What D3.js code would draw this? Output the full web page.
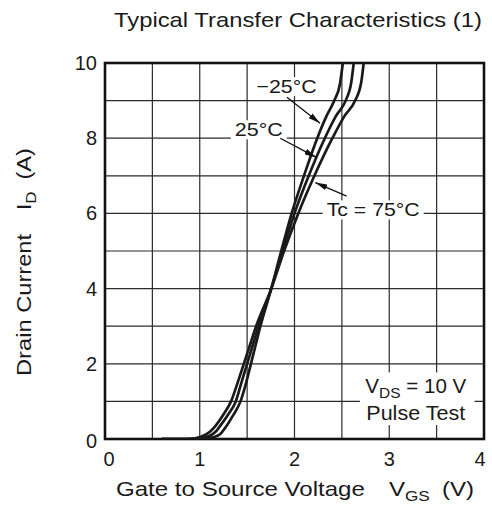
<!DOCTYPE html>
<html>
<head>
<meta charset="utf-8">
<script src="https://cdn.jsdelivr.net/npm/d3@7"></script>
<style>
  body { margin: 0; background: #fff; }
  svg text { font-family: "Liberation Sans", Arial, sans-serif; fill: #1a1a1a; }
</style>
</head>
<body>
<svg width="492" height="524"></svg>
<script>
const xTicks = [0, 1, 2, 3, 4];
const yTicks = [0, 2, 4, 6, 8, 10];

// Tc = -25 C
const vCold = [0.6, 0.95, 1.05, 1.15, 1.22, 1.27, 1.35, 1.43, 1.49, 1.54, 1.59, 1.64, 1.755, 1.86, 1.97, 2.10, 2.24, 2.34, 2.42, 2.48, 2.51];
const iCold = [0, 0, 0.01, 0.05, 0.14, 0.3, 0.62, 1.0, 1.5, 2.0, 2.5, 3.0, 4.0, 5.0, 6.0, 7.0, 8.0, 8.6, 9.0, 9.45, 10];
// Tc = 25 C
const vRoom = [0.6, 0.9, 1.0, 1.1, 1.17, 1.21, 1.3, 1.38, 1.44, 1.50, 1.56, 1.62, 1.755, 1.875, 2.0, 2.15, 2.32, 2.44, 2.54, 2.60, 2.625];
const iRoom = [0, 0, 0.02, 0.08, 0.2, 0.33, 0.65, 1.0, 1.5, 2.0, 2.5, 3.0, 4.0, 5.0, 6.0, 7.0, 8.0, 8.6, 9.0, 9.5, 10];
// Tc = 75 C
const vHot = [0.6, 0.85, 0.95, 1.05, 1.11, 1.16, 1.25, 1.33, 1.40, 1.465, 1.53, 1.595, 1.755, 1.89, 2.04, 2.21, 2.40, 2.53, 2.64, 2.705, 2.73];
const iHot = [0, 0, 0.02, 0.1, 0.2, 0.33, 0.65, 1.0, 1.5, 2.0, 2.5, 3.0, 4.0, 5.0, 6.0, 7.0, 8.0, 8.6, 9.0, 9.5, 10];

const series = [
  { name: "-25", v: vCold, i: iCold },
  { name: "25", v: vRoom, i: iRoom },
  { name: "75", v: vHot, i: iHot }
];

const margin = { left: 105, right: 8, top: 63, bottom: 85 };
const W = 492, H = 524;

const x = d3.scaleLinear().domain([0, 4]).range([margin.left, W - margin.right]);
const y = d3.scaleLinear().domain([0, 10]).range([H - margin.bottom, margin.top]);

const svg = d3.select("svg");

svg.append("clipPath").attr("id", "plot")
  .append("rect")
  .attr("x", x(0)).attr("y", y(10))
  .attr("width", x(4) - x(0)).attr("height", y(0) - y(10));

// grid, every 0.5 V and every 1 A
const grid = svg.append("g").attr("stroke", "#2b2b2b").attr("stroke-width", 1.2);
grid.selectAll(".gx")
  .data(d3.range(0.5, 4, 0.5))
  .join("line")
  .attr("x1", d => x(d)).attr("x2", d => x(d))
  .attr("y1", y(0)).attr("y2", y(10));
grid.selectAll(".gy")
  .data(d3.range(1, 10))
  .join("line")
  .attr("y1", d => y(d)).attr("y2", d => y(d))
  .attr("x1", x(0)).attr("x2", x(4));

// frame
svg.append("rect")
  .attr("x", x(0)).attr("y", y(10))
  .attr("width", x(4) - x(0)).attr("height", y(0) - y(10))
  .attr("fill", "none").attr("stroke", "#111").attr("stroke-width", 2.6);

// curves
const line = d3.line()
  .x(d => x(d[0]))
  .y(d => y(d[1]))
  .curve(d3.curveMonotoneX);

svg.append("g").attr("clip-path", "url(#plot)")
  .selectAll("path")
  .data(series)
  .join("path")
  .attr("d", s => line(s.v.map((v, k) => [v, s.i[k]])))
  .attr("fill", "none")
  .attr("stroke", "#1a1a1a")
  .attr("stroke-width", 2.7)
  .attr("stroke-linejoin", "round");

// tick labels
svg.append("g").selectAll("text")
  .data(xTicks)
  .join("text")
  .attr("x", d => x(d) + (d === 0 ? 4 : d === 4 ? -4 : 0))
  .attr("y", 466)
  .attr("text-anchor", "middle")
  .attr("font-size", 20)
  .text(d => d);

svg.append("g").selectAll("text")
  .data(yTicks)
  .join("text")
  .attr("x", x(0) - 8)
  .attr("y", d => y(d) + 7 + (d === 0 ? 2 : 0))
  .attr("text-anchor", "end")
  .attr("font-size", 20)
  .text(d => d);

// title
svg.append("text")
  .attr("x", 298).attr("y", 27)
  .attr("text-anchor", "middle")
  .attr("font-size", 21)
  .attr("textLength", 368).attr("lengthAdjust", "spacingAndGlyphs")
  .text("Typical Transfer Characteristics (1)");

// x axis title
const xt = svg.append("text")
  .attr("x", 295).attr("y", 496)
  .attr("text-anchor", "middle")
  .attr("font-size", 21)
  .attr("textLength", 358).attr("lengthAdjust", "spacingAndGlyphs");
xt.append("tspan").text("Gate to Source Voltage\u2003V");
xt.append("tspan").attr("font-size", 15).attr("dy", 5).text("GS");
xt.append("tspan").attr("dy", -5).text("\u2002(V)");

// y axis title
const yt = svg.append("text")
  .attr("transform", "translate(31,262) rotate(-90)")
  .attr("text-anchor", "middle")
  .attr("font-size", 21)
  .attr("textLength", 228).attr("lengthAdjust", "spacingAndGlyphs");
yt.append("tspan").text("Drain Current\u2003I");
yt.append("tspan").attr("font-size", 15).attr("dy", 5).text("D");
yt.append("tspan").attr("dy", -5).text("\u2002(A)");

// annotations with arrows (data coords)
const notes = [
  { label: "\u221225\u00b0C", tx: 1.60, ty: 9.2, len: 60, from: [1.92, 9.09], to: [2.27, 8.40] },
  { label: "25\u00b0C", tx: 1.37, ty: 8.05, len: 48, from: [1.85, 8.0], to: [2.23, 7.49] },
  { label: "Tc = 75\u00b0C", tx: 2.34, ty: 5.92, len: 93, from: [2.55, 6.46], to: [2.22, 6.82] }
];

svg.append("defs").append("marker")
  .attr("id", "arr")
  .attr("viewBox", "0 0 12 6")
  .attr("refX", 12).attr("refY", 3)
  .attr("markerWidth", 12).attr("markerHeight", 6)
  .attr("markerUnits", "userSpaceOnUse")
  .attr("orient", "auto")
  .append("path")
  .attr("d", "M0,0 L12,3 L0,6 Z")
  .attr("fill", "#111");

const ann = svg.append("g");
notes.forEach(n => {
  const g = ann.append("g");
  const bg = g.append("rect").attr("fill", "#fff");
  const t = g.append("text")
    .attr("x", x(n.tx)).attr("y", y(n.ty))
    .attr("font-size", 19)
    .attr("textLength", n.len).attr("lengthAdjust", "spacingAndGlyphs")
    .text(n.label);
  const b = t.node().getBBox();
  bg.attr("x", b.x - 4).attr("y", b.y + 1).attr("width", b.width + 8).attr("height", b.height - 2);
  g.append("line")
    .attr("x1", x(n.from[0])).attr("y1", y(n.from[1]))
    .attr("x2", x(n.to[0])).attr("y2", y(n.to[1]))
    .attr("stroke", "#111").attr("stroke-width", 1.3)
    .attr("marker-end", "url(#arr)");
});

// test condition box
const cond = svg.append("g");
cond.append("rect")
  .attr("x", x(2.69)).attr("y", y(1.77))
  .attr("width", x(3.9) - x(2.69)).attr("height", y(0.37) - y(1.77))
  .attr("fill", "#fff");
const c1 = cond.append("text")
  .attr("x", x(3.28)).attr("y", y(1.22))
  .attr("text-anchor", "middle")
  .attr("font-size", 20)
  .attr("textLength", 101).attr("lengthAdjust", "spacingAndGlyphs");
c1.append("tspan").text("V");
c1.append("tspan").attr("font-size", 15).attr("dy", 5).text("DS");
c1.append("tspan").attr("dy", -5).text(" = 10 V");
cond.append("text")
  .attr("x", x(3.28)).attr("y", y(0.5))
  .attr("text-anchor", "middle")
  .attr("font-size", 20)
  .attr("textLength", 99).attr("lengthAdjust", "spacingAndGlyphs")
  .text("Pulse Test");
</script>
</body>
</html>
